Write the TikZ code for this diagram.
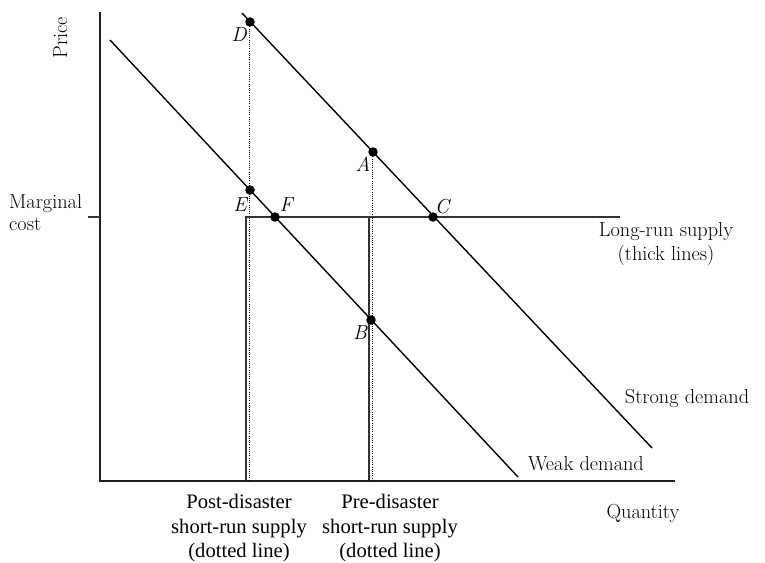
\documentclass[tikz,border=0pt]{standalone}
\usepackage{fontspec}
\newfontfamily\timesf{Liberation Serif}
\begin{document}
\begin{tikzpicture}[x=1pt,y=-1pt,
  lbl/.style={font=\fontsize{20.3}{24}\selectfont, inner sep=0pt},
  blbl/.style={font=\timesf\fontsize{20.6}{24.5}\selectfont, inner sep=0pt, align=center, anchor=north},
  ptlbl/.style={font=\fontsize{20.3}{24}\selectfont\itshape, inner sep=0pt},
  dot/.style={circle, fill=black, inner sep=0pt, minimum size=9.5pt},
  axisline/.style={line width=2.6pt, black!88},
  lrs/.style={line width=1.8pt, black!80},
  demand/.style={line width=1.4pt, black},
  shortrun/.style={line width=1.1pt, black, dash pattern=on 1pt off 1.2pt}]
\useasboundingbox (0,0) rectangle (765,562);

% axes
\coordinate (ytop) at (100,12);
\coordinate (origin) at (100,481);
\coordinate (xend) at (675,481);
\coordinate (tickL) at (88,217);
\coordinate (tickR) at (100,217);
\draw[axisline] (ytop) -- (origin) -- (xend);
\draw[line width=1.4pt, black!80] (tickL) -- (tickR);

% demand curves
\coordinate (wd1) at (110,40);
\coordinate (wd2) at (518,477);
\coordinate (sd1) at (242,13);
\coordinate (sd2) at (652,448);
\draw[demand] (wd1) -- (wd2);
\draw[demand] (sd1) -- (sd2);

% dotted short-run supply lines
\coordinate (postbot) at (249.5,481);
\coordinate (prebot) at (372.5,481);
\coordinate (posttop) at (249.5,22);
\coordinate (pretop) at (372.5,152);
\draw[shortrun] (posttop) -- (postbot);
\draw[shortrun] (pretop) -- (prebot);

% long-run supply (thick lines)
\coordinate (lrsL) at (246,217);
\coordinate (lrsM) at (369,217);
\coordinate (lrsR) at (620,217);
\coordinate (lrsLb) at (246,480);
\coordinate (lrsMb) at (369,480);
\draw[lrs] (lrsLb) -- (lrsL) -- (lrsR);
\draw[lrs] (lrsM) -- (lrsMb);

% points
\node[dot] (D) at (250,22) {};
\node[dot] (A) at (373,152) {};
\node[dot] (C) at (433,217) {};
\node[dot] (B) at (371,320) {};
\node[dot] (E) at (250,190) {};
\node[dot] (F) at (275,217) {};

% point labels
\node[ptlbl] (lD) at (239,35) {D};
\node[ptlbl] (lA) at (363,164) {A};
\node[ptlbl] (lC) at (442,207) {C};
\node[ptlbl] (lB) at (360,333) {B};
\node[ptlbl] (lE) at (240,205) {E};
\node[ptlbl] (lF) at (286,205) {F};

% axis labels
\node[lbl, rotate=90, anchor=base] (price) at (67,38) {Price};
\node[lbl, align=left, anchor=north west, font=\fontsize{20.3}{22}\selectfont] (mc) at (9,194) {Marginal\\cost};
\node[lbl, anchor=base] (qty) at (643,518) {Quantity};
\node[lbl, align=center, anchor=north] (lrslbl) at (666,222) {Long-run supply\\(thick lines)};
\node[lbl, anchor=base] (strong) at (687,403) {Strong demand};
\node[lbl, anchor=base] (weak) at (586,470) {Weak demand};

% bottom labels
\node[blbl] (post) at (239,494) {Post-disaster\\short-run supply\\(dotted line)};
\node[blbl] (pre) at (390,494) {Pre-disaster\\short-run supply\\(dotted line)};
\end{tikzpicture}
\end{document}
